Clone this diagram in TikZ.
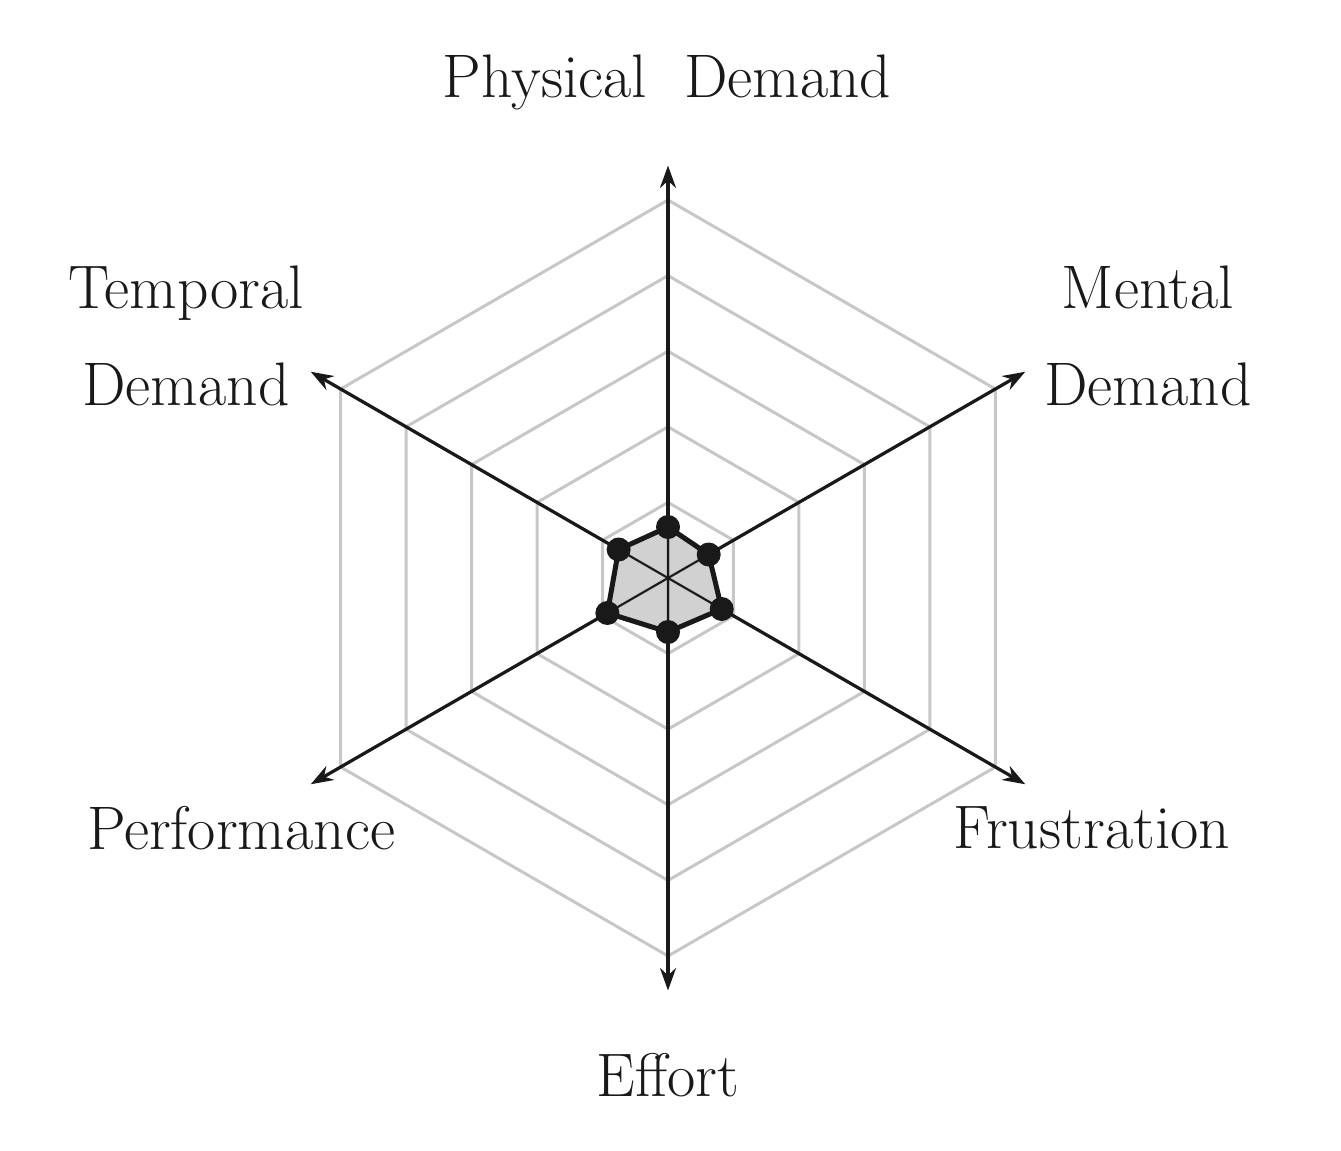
\documentclass[tikz,border=0pt]{standalone}
\usetikzlibrary{arrows.meta,calc}
\begin{document}
\begin{tikzpicture}[
  ring/.style={draw=black!22, line width=0.06cm},
  axis/.style={draw=black!90, line width=0.065cm, -{Stealth[length=0.45cm,width=0.32cm]}},
  datum/.style={circle, fill=black!90, inner sep=0pt, minimum size=0.48cm},
  lbl/.style={font=\fontsize{35}{42}\selectfont, align=center, text=black!90}
]
\useasboundingbox (0,0) rectangle (26.82,-23);
\coordinate (c) at (13.36,-11.56);

% rings
\foreach \r in {1,...,5}
  \draw[ring] ($(c)+(90:1.512*\r)$) \foreach \a in {30,-30,-90,-150,150} { -- ($(c)+(\a:1.512*\r)$) } -- cycle;

% axes
\foreach \a/\n in {90/pd,30/md,-30/fr,-90/ef,-150/pe,150/td} {
  \coordinate (\n) at ($(c)+(\a:8.25)$);
  \draw[axis] (c) -- (\n);
}

% data
\foreach \a/\r/\n in {90/1.02/d1,30/0.94/d2,-30/1.24/d3,-90/1.08/d4,-150/1.40/d5,150/1.14/d6}
  \coordinate (\n) at ($(c)+(\a:\r)$);
\draw[fill=black!20, fill opacity=0.9, draw=black!90, line width=0.1cm, line join=round]
  (d1) -- (d2) -- (d3) -- (d4) -- (d5) -- (d6) -- cycle;
\draw[black!90, line width=0.04cm] (d1) -- (d4) (d2) -- (d5) (d3) -- (d6);
\foreach \n in {d1,d2,d3,d4,d5,d6}
  \node[datum] (n\n) at (\n) {};

% labels
\node[lbl] (lpd) at (13.34,-1.64) {Physical\ \ Demand};
\node[lbl] (lmd) at (22.96,-6.72) {Mental\\[0.45cm]Demand};
\node[lbl] (ltd) at (3.72,-6.72) {Temporal\\[0.45cm]Demand};
\node[lbl] (lpe) at (4.82,-16.56) {Performance};
\node[lbl] (lfr) at (21.84,-16.56) {Frustration};
\node[lbl] (lef) at (13.36,-21.5) {Effort};
\end{tikzpicture}
\end{document}
